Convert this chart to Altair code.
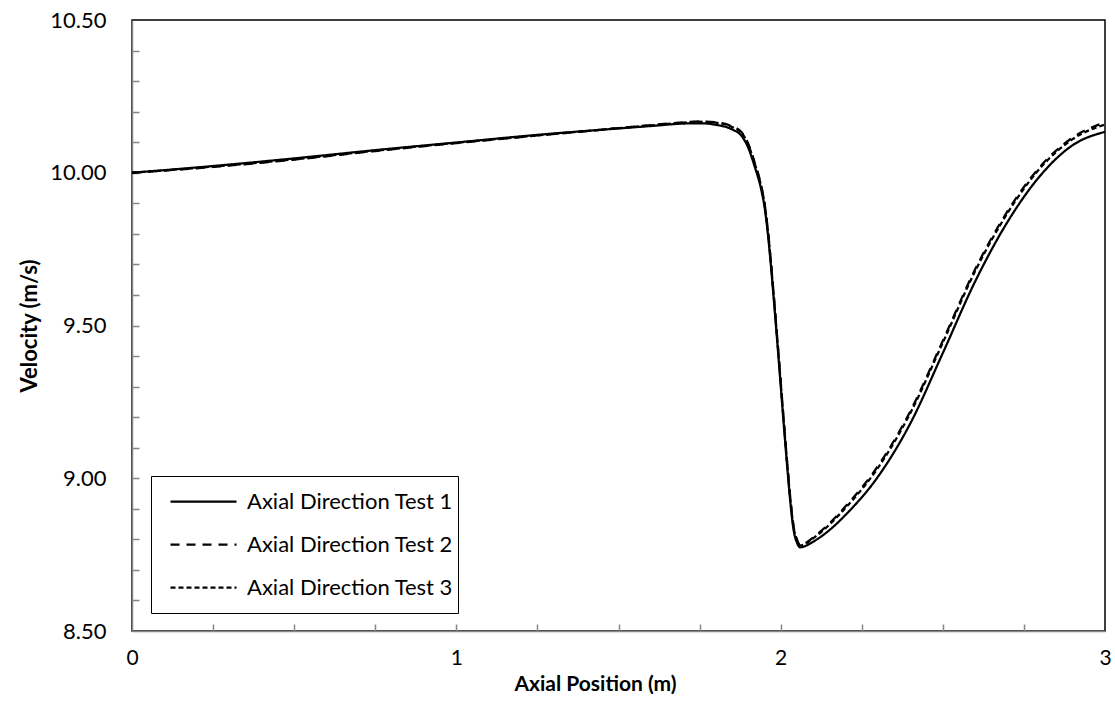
import altair as alt
import pandas as pd

# ---- data ----
x_pos = [0.0, 0.25, 0.5, 0.75, 1.0, 1.25, 1.5, 1.6, 1.7, 1.75, 1.8, 1.85, 1.88, 1.9,
         1.92, 1.94, 1.95, 1.96, 1.97, 1.98, 1.99, 2.0, 2.01, 2.02, 2.03, 2.04, 2.05,
         2.06, 2.08, 2.1, 2.15, 2.2, 2.3, 2.4, 2.5, 2.6, 2.7, 2.8, 2.9, 3.0]

test1 = [10.000, 10.022, 10.047, 10.074, 10.099, 10.124, 10.145, 10.153, 10.161, 10.162,
         10.157, 10.142, 10.120, 10.082, 10.020, 9.945, 9.890, 9.805, 9.695, 9.570,
         9.440, 9.305, 9.170, 9.040, 8.920, 8.830, 8.790, 8.774, 8.780, 8.792,
         8.830, 8.880, 9.005, 9.180, 9.410, 9.645, 9.840, 9.990, 10.090, 10.134]

test2 = [10.000, 10.019, 10.043, 10.071, 10.097, 10.122, 10.146, 10.156, 10.165, 10.168,
         10.165, 10.152, 10.132, 10.095, 10.033, 9.958, 9.903, 9.818, 9.708, 9.583,
         9.453, 9.318, 9.183, 9.053, 8.933, 8.842, 8.800, 8.782, 8.790, 8.806,
         8.852, 8.908, 9.040, 9.220, 9.450, 9.685, 9.875, 10.020, 10.115, 10.165]

test3 = [10.000, 10.020, 10.044, 10.072, 10.098, 10.122, 10.146, 10.155, 10.164, 10.167,
         10.164, 10.150, 10.130, 10.092, 10.030, 9.955, 9.900, 9.815, 9.705, 9.580,
         9.450, 9.315, 9.180, 9.050, 8.930, 8.839, 8.798, 8.780, 8.788, 8.803,
         8.848, 8.903, 9.034, 9.214, 9.444, 9.679, 9.869, 10.015, 10.110, 10.158]

series_names = ["Axial Direction Test 1", "Axial Direction Test 2", "Axial Direction Test 3"]
series_values = [test1, test2, test3]

x_label_values = [0, 1, 2, 3]
y_label_values = [8.5, 9.0, 9.5, 10.0, 10.5]
x_tick_values = [0.25, 0.5, 0.75, 1.0, 1.25, 1.5, 1.75, 2.0, 2.25, 2.5, 2.75]
y_tick_values = [8.6, 8.7, 8.8, 8.9, 9.0, 9.1, 9.2, 9.3, 9.4, 9.5, 9.6, 9.7, 9.8, 9.9,
                 10.0, 10.1, 10.2, 10.3, 10.4]

rows = []
for name, vals in zip(series_names, series_values):
    for xv, yv in zip(x_pos, vals):
        rows.append({"x": xv, "v": yv, "series": name})
df = pd.DataFrame(rows)

FONT = "Lato"
GRAY = "#868686"

x_scale = alt.Scale(domain=[0, 3], nice=False, zero=False)
y_scale = alt.Scale(domain=[8.5, 10.5], nice=False, zero=False)

lines = alt.Chart(df).mark_line(
    interpolate="monotone", strokeWidth=2.25, color="black", clip=True
).encode(
    x=alt.X("x:Q", scale=x_scale,
            axis=alt.Axis(orient="bottom", values=x_label_values, format="d",
                          ticks=False, grid=False, domainColor=GRAY, domainWidth=1.5,
                          labelFont=FONT, labelFontSize=21, labelColor="black",
                          labelPadding=16, labelFlush=False,
                          title="Axial Position (m)", titleFont=FONT, titleFontSize=21,
                          titleFontWeight="bold", titleColor="black", titlePadding=5,
                          titleX=463)),
    y=alt.Y("v:Q", scale=y_scale,
            axis=alt.Axis(orient="left", values=y_label_values, format=".2f",
                          ticks=False, grid=False, domainColor=GRAY, domainWidth=1.5,
                          labelFont=FONT, labelFontSize=22, labelColor="black",
                          labelPadding=26, labelFlush=False,
                          title="Velocity (m/s)", titleFont=FONT, titleFontSize=22,
                          titleFontWeight="bold", titleColor="black", titlePadding=8)),
    strokeDash=alt.StrokeDash(
        "series:N",
        scale=alt.Scale(domain=series_names, range=[[1, 0], [9, 7], [5, 3]]),
        legend=alt.Legend(title=None, orient="none", legendX=19, legendY=456,
                          symbolType="stroke", symbolSize=4356, symbolStrokeWidth=2.25,
                          symbolStrokeColor="black", clipHeight=43, rowPadding=0,
                          padding=4, symbolOffset=14, labelOffset=9, labelLimit=500,
                          labelFont=FONT, labelFontSize=22, labelColor="black",
                          strokeColor="black", fillColor="white"),
    ),
)

ticks_layer = alt.Chart(df).mark_point(opacity=0).encode(
    x=alt.X("x:Q", scale=x_scale,
            axis=alt.Axis(orient="bottom", values=x_tick_values, offset=-7, tickSize=7,
                          tickColor=GRAY, tickWidth=1.5, labels=False, domain=False,
                          grid=False, title=None)),
    y=alt.Y("v:Q", scale=y_scale,
            axis=alt.Axis(orient="left", values=y_tick_values, offset=-7, tickSize=7,
                          tickColor=GRAY, tickWidth=1.5, labels=False, domain=False,
                          grid=False, title=None)),
)

chart = alt.layer(ticks_layer, lines).resolve_axis(
    x="independent", y="independent"
).properties(
    width=973, height=611,
    autosize=alt.AutoSizeParams(type="none"),
    padding={"left": 132, "top": 20, "right": 10, "bottom": 77},
    background="white",
).configure_view(stroke="black", strokeWidth=1.5)

chart.save("out.html", embed_options={"renderer": "svg", "actions": False})
